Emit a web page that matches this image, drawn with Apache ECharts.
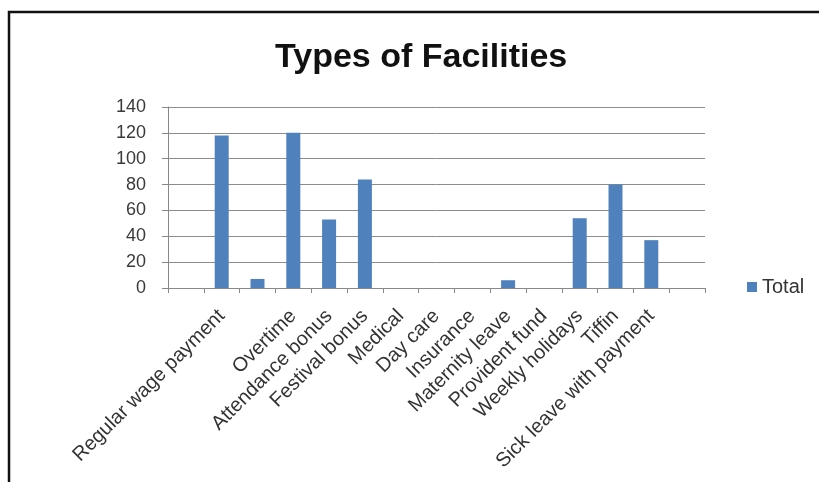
<!DOCTYPE html>
<html>
<head>
<meta charset="utf-8">
<script src="https://cdn.jsdelivr.net/npm/echarts@6/dist/echarts.min.js"></script>
<style>
html,body{margin:0;padding:0;background:#fff;}
#chart{width:819px;height:482px;}
</style>
</head>
<body>
<div id="chart"></div>
<script>
var titleText = "Types of Facilities";
var seriesName = "Total";
var categories = [" ", "Regular wage payment", "  ", "Overtime", "Attendance bonus", "Festival bonus", "Medical", "Day care", "Insurance", "Maternity leave", "Provident fund", "Weekly holidays", "Tiffin", "Sick leave with payment", "   "];
var values = [0, 118, 7, 120, 53, 84, 0, 0, 0, 6, 0, 54, 80, 37, 0];
var yMin = 0, yMax = 140, yInterval = 20;

var chart = echarts.init(document.getElementById('chart'));
var fontFam = '"Liberation Sans", Arial, sans-serif';
chart.setOption({
  backgroundColor: '#ffffff',
  animation: false,
  title: {
    text: titleText,
    left: 270,
    top: 36,
    textStyle: {fontFamily: fontFam, fontWeight: 'bold', fontSize: 34, color: '#111'}
  },
  legend: {
    data: [seriesName],
    left: 742,
    top: 272,
    icon: 'rect',
    itemWidth: 10,
    itemHeight: 10,
    textStyle: {fontFamily: fontFam, fontSize: 20, color: '#333'}
  },
  grid: {left: 168, right: 114, top: 107, bottom: 194, containLabel: false},
  xAxis: {
    type: 'category',
    data: categories,
    boundaryGap: true,
    axisLine: {lineStyle: {color: '#888', width: 1}},
    axisTick: {show: true, length: 5, lineStyle: {color: '#888'}},
    axisLabel: {interval: 0, rotate: 45, margin: 25, fontFamily: fontFam, fontSize: 20, color: '#333'}
  },
  yAxis: {
    type: 'value',
    min: yMin, max: yMax, interval: yInterval,
    axisLine: {show: true, lineStyle: {color: '#888'}},
    axisTick: {show: true, length: 6, lineStyle: {color: '#888'}},
    splitLine: {lineStyle: {color: '#8c8c8c'}},
    axisLabel: {margin: 22, fontFamily: fontFam, fontSize: 18, color: '#3a3a3a'}
  },
  series: [{
    name: seriesName,
    type: 'bar',
    data: values,
    barWidth: 14,
    itemStyle: {color: '#4F81BD'}
  }],
  graphic: [
    {type: 'rect', shape: {x: 9, y: 12, width: 830, height: 500}, style: {fill: 'none', stroke: '#111', lineWidth: 2.5}, silent: true}
  ]
});
</script>
</body>
</html>
